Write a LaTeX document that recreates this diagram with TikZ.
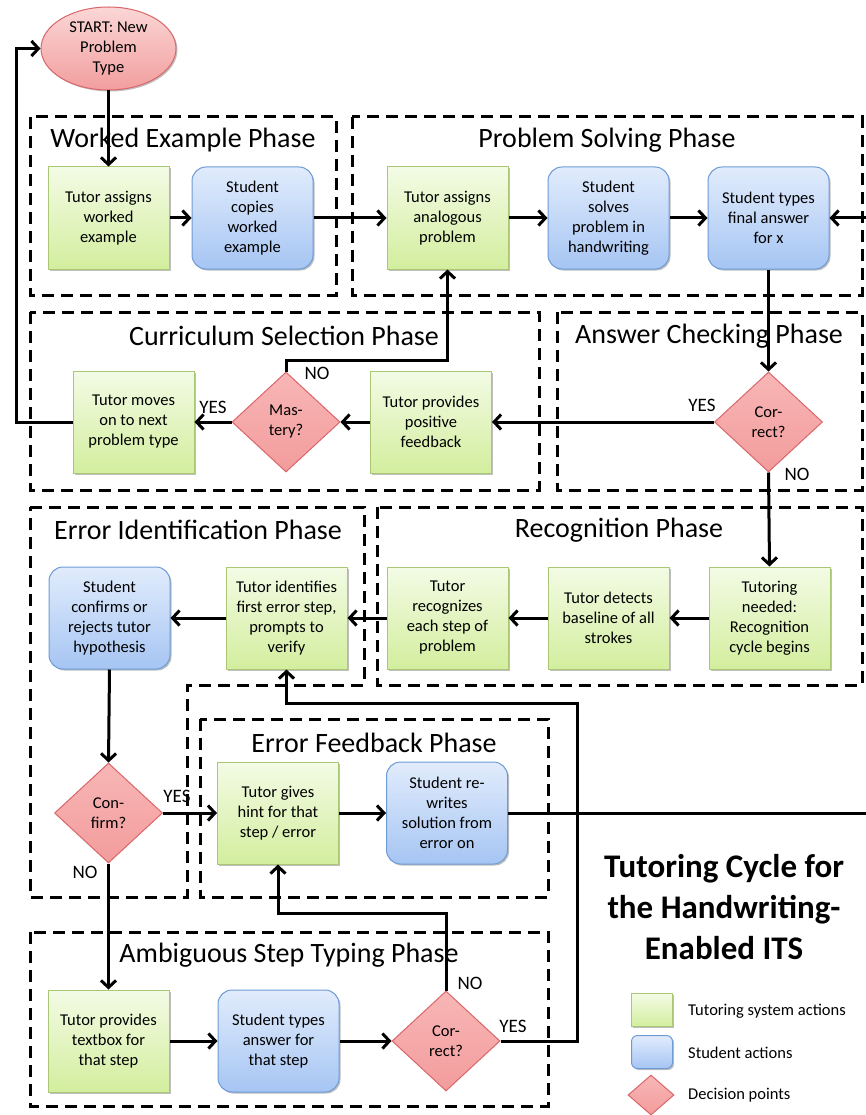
\documentclass[tikz,border=0pt]{standalone}
\usepackage{fontspec}
\setmainfont{Carlito}
\usetikzlibrary{shapes.geometric,arrows.meta,shadows}
\definecolor{gtop}{HTML}{F3FBE5}
\definecolor{gbot}{HTML}{D3EE9E}
\definecolor{gline}{HTML}{A9C774}
\definecolor{btop}{HTML}{E1ECFC}
\definecolor{bbot}{HTML}{A6C5F3}
\definecolor{bline}{HTML}{6E9BD6}
\definecolor{rtop}{HTML}{F8B6B6}
\definecolor{rbot}{HTML}{F39C9C}
\definecolor{rline}{HTML}{D9666A}
\definecolor{etop}{HTML}{FBD6D6}
\definecolor{ebot}{HTML}{F29E9E}
\newcommand\mynodefont{\fontsize{16.5}{20}\selectfont}
\newcommand\myphasefont{\fontsize{28}{32}\selectfont}
\newcommand\mylblfont{\fontsize{19}{22}\selectfont}
\newcommand\mytitlefont{\fontsize{33}{41}\selectfont\bfseries}
\tikzset{
  shad/.style={drop shadow={shadow xshift=1.5pt,shadow yshift=-1.5pt,opacity=0.25,fill=black}},
  tutor/.style={rectangle,draw=gline,line width=1pt,top color=gtop,bottom color=gbot,
    minimum width=121pt,minimum height=102pt,inner sep=0pt,align=center,font=\mynodefont,shad},
  student/.style={rectangle,rounded corners=14pt,draw=bline,line width=1pt,top color=btop,bottom color=bbot,
    minimum width=121pt,minimum height=102pt,inner sep=0pt,align=center,font=\mynodefont,shad},
  decision/.style={diamond,draw=rline,line width=1pt,top color=rtop,bottom color=rbot,
    minimum width=108pt,minimum height=100pt,inner sep=0pt,align=center,font=\mynodefont},
  startnode/.style={ellipse,draw=rline,line width=1pt,top color=etop,bottom color=ebot,
    minimum width=135pt,minimum height=83pt,inner sep=0pt,align=center,font=\mynodefont,shad},
  phase/.style={draw=black,line width=3pt,dash pattern=on 12pt off 7pt},
  phasetitle/.style={font=\myphasefont,inner sep=0pt},
  conn/.style={draw=black,line width=3pt,-{Straight Barb[length=7pt,width=15pt]}},
  lbl/.style={font=\mylblfont,inner sep=0pt},
  legtext/.style={font=\mynodefont,anchor=west,inner sep=0pt}
}
\begin{document}
\begin{tikzpicture}[x=1pt,y=-1pt]
\fill[white] (0,0) rectangle (865,1115);
\useasboundingbox (0,0) rectangle (865,1115);

% phase boxes
\draw[phase] (30,117) rectangle (336,295);
\draw[phase] (352,117) rectangle (862,295);
\draw[phase] (30,312) rectangle (539,490);
\draw[phase] (557,312) rectangle (862,490);
\draw[phase] (30,507) -- (364,507) -- (364,685) -- (187,685) -- (187,897) -- (30,897) -- cycle;
\draw[phase] (377,507) rectangle (862,685);
\draw[phase] (200,719) rectangle (548,897);
\draw[phase] (30,932) rectangle (548,1106);

% phase titles
\node[phasetitle] (t1) at (183,140) {Worked Example Phase};
\node[phasetitle] (t2) at (607,140) {Problem Solving Phase};
\node[phasetitle] (t3) at (284,336) {Curriculum Selection Phase};
\node[phasetitle] (t4) at (709,336) {Answer Checking Phase};
\node[phasetitle] (t5) at (198,530) {Error Identification Phase};
\node[phasetitle] (t6) at (619,530) {Recognition Phase};
\node[phasetitle] (t7) at (374,743) {Error Feedback Phase};
\node[phasetitle] (t8) at (289,955) {Ambiguous Step Typing Phase};

% nodes
\node[startnode] (start) at (108.5,48.5) {START: New\\Problem\\Type};
\node[tutor] (twe) at (108.5,218) {Tutor assigns\\worked\\example};
\node[student] (scw) at (252.5,218) {Student\\copies\\worked\\example};
\node[tutor] (taa) at (447.5,218) {Tutor assigns\\analogous\\problem};
\node[student] (ssp) at (608.5,218) {Student\\solves\\problem in\\handwriting};
\node[student] (stf) at (768.5,218) {Student types\\final answer\\for x};

\node[tutor] (tmo) at (133.5,422) {Tutor moves\\on to next\\problem type};
\node[decision] (mas) at (286,422) {Mas-\\tery?};
\node[tutor] (tpf) at (431,422) {Tutor provides\\positive\\feedback};
\node[decision] (cor1) at (768.5,422) {Cor-\\rect?};

\node[student] (scr) at (109.5,618) {Student\\confirms or\\rejects tutor\\hypothesis};
\node[tutor] (tif) at (286.5,618) {Tutor identifies\\first error step,\\prompts to\\verify};
\node[tutor] (trs) at (447.5,618) {Tutor\\recognizes\\each step of\\problem};
\node[tutor] (tdb) at (608.5,618) {Tutor detects\\baseline of all\\strokes};
\node[tutor] (tnr) at (769.5,618) {Tutoring\\needed:\\Recognition\\cycle begins};

\node[decision] (conf) at (108.5,813) {Con-\\firm?};
\node[tutor] (tgh) at (278,813) {Tutor gives\\hint for that\\step / error};
\node[student] (srw) at (447,813) {Student re-\\writes\\solution from\\error on};

\node[tutor] (tpt) at (108.5,1041) {Tutor provides\\textbox for\\that step};
\node[student] (sta) at (278.5,1041) {Student types\\answer for\\that step};
\node[decision] (cor2) at (446,1041) {Cor-\\rect?};

% connectors
\draw[conn] (start.south) -- (twe.north);
\draw[conn] (twe) -- (scw);
\draw[conn] (scw) -- (taa);
\draw[conn] (taa) -- (ssp);
\draw[conn] (ssp) -- (stf);
\coordinate (rcorner) at (869,813);
\draw[conn] (srw.east) -- (rcorner) |- (stf.east);
\draw[conn] (stf.south) -- (cor1.north);
\draw[conn] (cor1.west) -- (tpf.east);
\draw[conn] (tpf.west) -- (mas.east);
\draw[conn] (mas.west) -- (tmo.east);
\coordinate (mbend) at (286,360);
\draw[conn] (mas.north) -- (mbend) -| (taa.south);
\coordinate (lbend) at (16,422);
\draw[conn] (tmo.west) -- (lbend) |- (start.west);
\draw[conn] (cor1.south) -- (tnr.north);
\draw[conn] (tnr) -- (tdb);
\draw[conn] (tdb) -- (trs);
\draw[conn] (trs) -- (tif);
\draw[conn] (tif) -- (scr);
\draw[conn] (scr.south) -- (conf.north);
\draw[conn] (conf.east) -- (tgh.west);
\draw[conn] (conf.south) -- (tpt.north);
\draw[conn] (tgh) -- (srw);
\draw[conn] (tpt) -- (sta);
\draw[conn] (sta) -- (cor2);
\coordinate (ybend) at (577,703);
\draw[conn] (cor2.east) -| (ybend) -| (tif.south);
\coordinate (nbend) at (446,913);
\draw[conn] (cor2.north) -- (nbend) -| (tgh.south);

% labels
\node[lbl] (l1) at (702,405) {YES};
\node[lbl] (l2) at (797,474) {NO};
\node[lbl] (l3) at (213,407) {YES};
\node[lbl] (l4) at (317,373) {NO};
\node[lbl] (l5) at (177,796) {YES};
\node[lbl] (l6) at (85,872) {NO};
\node[lbl] (l7) at (470,983) {NO};
\node[lbl] (l8) at (513,1026) {YES};

% title
\node[font=\mytitlefont,align=center,inner sep=0pt] (title) at (724,907) {Tutoring Cycle for\\the Handwriting-\\Enabled ITS};

% legend
\node[rectangle,draw=gline,line width=1pt,top color=gtop,bottom color=gbot,minimum width=41pt,minimum height=33pt,inner sep=0pt,shad] (lg1) at (652,1010) {};
\node[rectangle,rounded corners=6pt,draw=bline,line width=1pt,top color=btop,bottom color=bbot,minimum width=41pt,minimum height=33pt,inner sep=0pt,shad] (lg2) at (652,1052) {};
\node[diamond,draw=rline,line width=1pt,top color=rtop,bottom color=rbot,minimum width=46pt,minimum height=40pt,inner sep=0pt] (lg3) at (651,1095) {};
\node[legtext] (lt1) at (688,1011) {Tutoring system actions};
\node[legtext] (lt2) at (688,1053) {Student actions};
\node[legtext] (lt3) at (688,1095) {Decision points};
\end{tikzpicture}
\end{document}
